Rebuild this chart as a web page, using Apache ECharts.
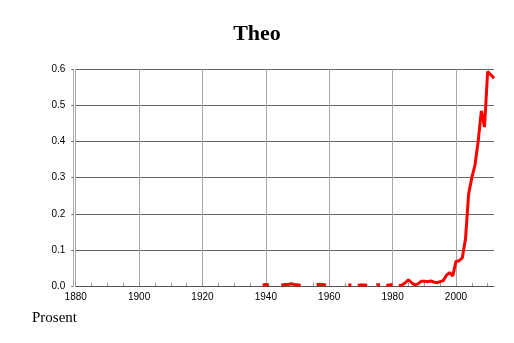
<!DOCTYPE html>
<html><head><meta charset="utf-8">
<script src="https://cdn.jsdelivr.net/npm/echarts@6/dist/echarts.min.js"></script>
<style>html,body{margin:0;padding:0;background:#fff}#c{width:514px;height:343px}</style>
</head><body><div id="c"></div>
<script>
const titleText = 'Theo';
const unitText = 'Prosent';
const xLabelValues = [1880, 1900, 1920, 1940, 1960, 1980, 2000];
const xMinorTickValues = [1885, 1890, 1895, 1905, 1910, 1915, 1925, 1930, 1935, 1945, 1950, 1955, 1965, 1970, 1975, 1985, 1990, 1995, 2005, 2010];
const yTickValues = [0, 0.1, 0.2, 0.3, 0.4, 0.5, 0.6];
// null = gap in the data
const years = [
  1939, 1940, 1941, 1942,
  1945, 1946, 1947, 1948, 1949, 1950, 1951, 1952,
  1956, 1957, 1958, 1959, 1960,
  1966, 1967, 1968,
  1969, 1970, 1971, 1972, 1973,
  1975, 1976, 1977,
  1978, 1979, 1980, 1981,
  1982, 1983, 1984, 1985, 1986, 1987, 1988, 1989, 1990, 1991, 1992, 1993, 1994, 1995, 1996, 1997, 1998, 1999,
  2000, 2001, 2002, 2003, 2004, 2005, 2006, 2007, 2008, 2009, 2010, 2011, 2012
];
const values = [
  0.003, 0.004, 0.003, null,
  0.002, 0.004, 0.004, 0.006, 0.004, 0.003, 0.002, null,
  0.004, 0.005, 0.004, 0.002, null,
  0.003, 0.003, null,
  0.002, 0.003, 0.003, 0.002, null,
  0.003, 0.004, null,
  0.002, 0.003, 0.004, null,
  0.001, 0.003, 0.009, 0.017, 0.009, 0.003, 0.006, 0.013, 0.013, 0.012, 0.014, 0.011, 0.009, 0.012, 0.015, 0.030, 0.037, 0.028,
  0.068, 0.070, 0.078, 0.130, 0.255, 0.300, 0.335, 0.400, 0.485, 0.440, 0.594, 0.585, 0.575
];

const data = years.map((y, i) => [y, values[i] === null ? '-' : values[i]]);
const sans = 'Liberation Sans';
const chart = echarts.init(document.getElementById('c'), null, {renderer: 'canvas'});
chart.setOption({
  animation: false,
  backgroundColor: '#fff',
  title: [
    {text: titleText, left: 'center', top: 23, padding: 0,
     textStyle: {fontFamily: 'Liberation Serif', fontWeight: 'bold', fontSize: 22, color: '#000'}},
    {text: unitText, left: 32, top: 311, padding: 0,
     textStyle: {fontFamily: 'Liberation Serif', fontWeight: 'normal', fontSize: 15, color: '#000'}}
  ],
  grid: {left: 75.7, right: 20, top: 69.3, bottom: 57, containLabel: false},
  xAxis: [
    {type: 'value', min: 1880, max: 2012,
     axisLine: {show: true, lineStyle: {color: '#555', width: 1}},
     axisTick: {show: true, inside: true, length: 3, customValues: xLabelValues, lineStyle: {color: '#999'}},
     axisLabel: {show: true, customValues: xLabelValues, margin: 6, fontFamily: sans, fontSize: 10, color: '#000',
                 formatter: v => String(v)},
     splitLine: {show: true, lineStyle: {color: '#a8a8a8', width: 1}}},
    {type: 'value', min: 1880, max: 2012, position: 'bottom', gridIndex: 0,
     axisLine: {show: false},
     axisTick: {show: true, inside: true, length: 3, customValues: xMinorTickValues, lineStyle: {color: '#999'}},
     axisLabel: {show: false},
     splitLine: {show: false}}
  ],
  yAxis: {
    type: 'value', min: 0, max: 0.6, interval: 0.1, offset: 2.4,
    axisLine: {show: true, lineStyle: {color: '#a8a8a8', width: 1}},
    axisTick: {show: true, length: 2, lineStyle: {color: '#666'}},
    axisLabel: {margin: 8, fontFamily: sans, fontSize: 10, color: '#000', formatter: v => v.toFixed(1)},
    splitLine: {show: true, lineStyle: {color: '#666', width: 1}}
  },
  series: [{
    type: 'line', xAxisIndex: 0, data: data, connectNulls: false,
    symbol: 'none', showSymbol: false,
    lineStyle: {color: '#ff0000', width: 3},
    z: 5
  }]
});
</script></body></html>
